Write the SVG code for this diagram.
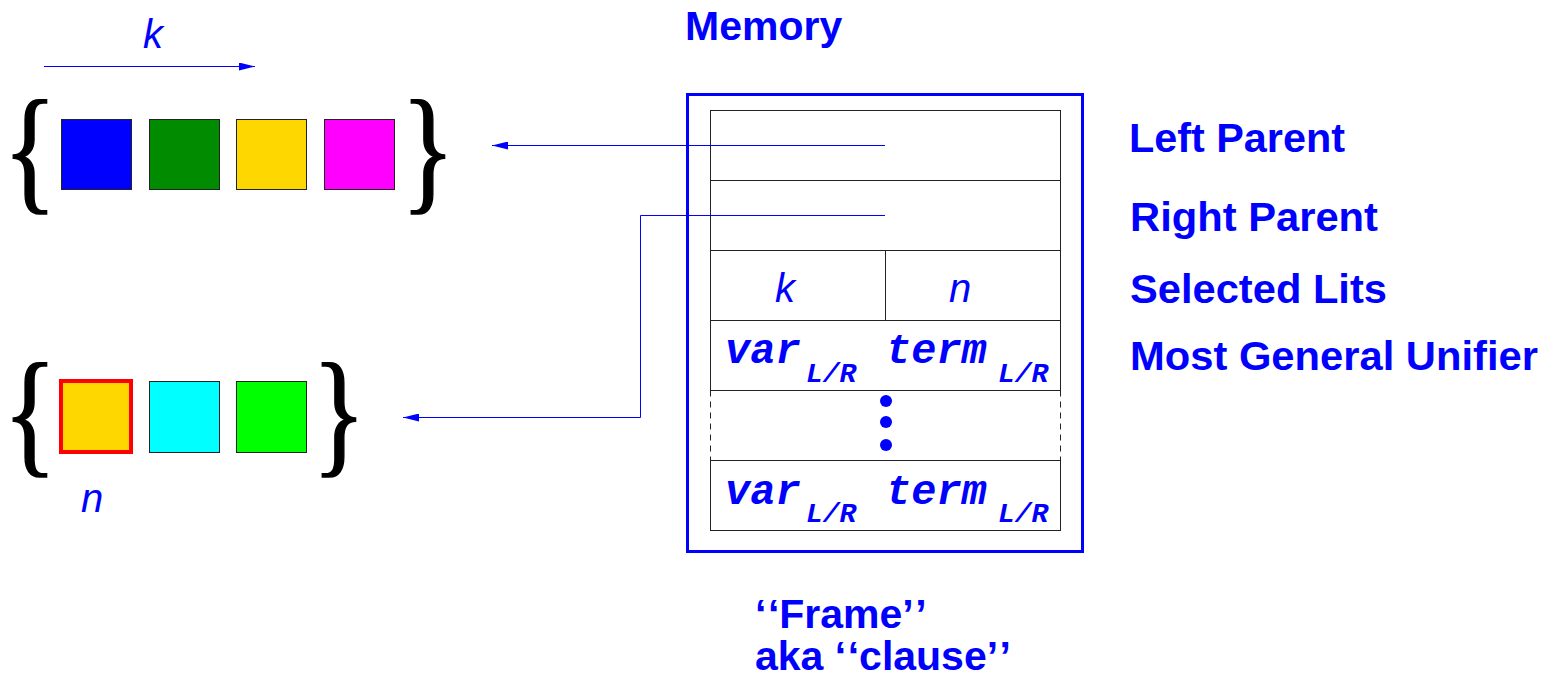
<svg xmlns="http://www.w3.org/2000/svg" width="1548" height="682" viewBox="0 0 1548 682">
<style>
.lbl{font-family:"Liberation Sans",Arial,sans-serif;font-weight:bold;font-size:41px;fill:#0000ff}
.it{font-family:"Liberation Sans",Arial,sans-serif;font-style:italic;font-size:40px;fill:#0000ff}
.mono{font-family:"Liberation Mono","Courier New",monospace;font-weight:bold;font-style:italic;font-size:42px;fill:#0000ff}
.sub{font-family:"Liberation Mono","Courier New",monospace;font-weight:bold;font-style:italic;font-size:28px;fill:#0000ff}
.brace{font-family:"Liberation Serif","Times New Roman",serif;font-size:137px;fill:#000;stroke:#000;stroke-width:1.5}
.sq{stroke:#222;stroke-width:1}
.cell{fill:none;stroke:#222;stroke-width:1}
.conn{fill:none;stroke:#0000ff;stroke-width:1}
</style>
<defs>
<marker id="ah" markerWidth="16" markerHeight="8" refX="16" refY="4" orient="auto" markerUnits="userSpaceOnUse">
<path d="M0,0 L16,4 L0,8 Z" fill="#0000ff"/>
</marker>
</defs>

<g id="k-label">
<text class="it" x="153" y="48" text-anchor="middle">k</text>
</g>

<g id="left-clause">
<text class="brace" text-anchor="middle" transform="translate(30,196) scale(0.82,1)">{</text>
<rect class="sq" x="61.5" y="119.5" width="70" height="70" fill="#0000ff"/>
<rect class="sq" x="149.5" y="119.5" width="70" height="70" fill="#008b00"/>
<rect class="sq" x="236.5" y="119.5" width="70" height="70" fill="#ffd700"/>
<rect class="sq" x="324.5" y="119.5" width="70" height="70" fill="#ff00ff"/>
<text class="brace" text-anchor="middle" transform="translate(428,196) scale(0.82,1)">}</text>
</g>

<g id="right-clause">
<text class="brace" text-anchor="middle" transform="translate(30,459) scale(0.82,1)">{</text>
<rect x="61" y="381" width="70" height="71" fill="#ffd700" stroke="#ff0000" stroke-width="4"/>
<rect class="sq" x="149.5" y="381.5" width="70" height="71" fill="#00ffff"/>
<rect class="sq" x="236.5" y="381.5" width="70" height="71" fill="#00ff00"/>
<text class="brace" text-anchor="middle" transform="translate(339,459) scale(0.82,1)">}</text>
<text class="it" x="92" y="512" text-anchor="middle">n</text>
</g>

<g id="memory-title">
<text class="lbl" x="685" y="40">Memory</text>
</g>

<g id="frame">
<rect x="687.5" y="94.5" width="395" height="457" fill="none" stroke="#0000ff" stroke-width="3"/>
<rect class="cell" x="710.5" y="110.5" width="350" height="70"/>
<rect class="cell" x="710.5" y="180.5" width="350" height="70"/>
<rect class="cell" x="710.5" y="250.5" width="350" height="70"/>
<line class="cell" x1="885.5" y1="250.5" x2="885.5" y2="320.5"/>
<text class="it" x="785" y="302" text-anchor="middle">k</text>
<text class="it" x="960" y="302" text-anchor="middle">n</text>
<rect class="cell" x="710.5" y="320.5" width="350" height="70"/>
<text class="mono" x="725" y="363">var</text>
<text class="sub" x="806" y="382">L/R</text>
<text class="mono" x="886" y="363">term</text>
<text class="sub" x="998" y="382">L/R</text>
<line class="cell" x1="710.5" y1="390.5" x2="710.5" y2="460.5" stroke-dasharray="6,5"/>
<line class="cell" x1="1060.5" y1="390.5" x2="1060.5" y2="460.5" stroke-dasharray="6,5"/>
<circle cx="886" cy="401" r="6" fill="#0000ff"/>
<circle cx="886" cy="422" r="6" fill="#0000ff"/>
<circle cx="886" cy="445" r="6" fill="#0000ff"/>
<rect class="cell" x="710.5" y="460.5" width="350" height="70"/>
<text class="mono" x="725" y="504">var</text>
<text class="sub" x="806" y="522">L/R</text>
<text class="mono" x="886" y="504">term</text>
<text class="sub" x="998" y="522">L/R</text>
</g>

<g id="field-labels">
<text class="lbl" x="1129" y="152" textLength="216" lengthAdjust="spacingAndGlyphs">Left Parent</text>
<text class="lbl" x="1130" y="231" textLength="248" lengthAdjust="spacingAndGlyphs">Right Parent</text>
<text class="lbl" x="1130" y="303" textLength="257" lengthAdjust="spacingAndGlyphs">Selected Lits</text>
<text class="lbl" x="1130" y="370" textLength="408" lengthAdjust="spacingAndGlyphs">Most General Unifier</text>
</g>

<g id="caption">
<text class="lbl" x="755" y="628">‘<tspan dx="3">‘</tspan>Frame’<tspan dx="3">’</tspan></text>
<text class="lbl" x="755" y="670">aka ‘<tspan dx="3">‘</tspan>clause’<tspan dx="3">’</tspan></text>
</g>

<g id="connectors">
<line class="conn" x1="44" y1="66.5" x2="255" y2="66.5" marker-end="url(#ah)"/>
<line class="conn" x1="885" y1="145.5" x2="492" y2="145.5" marker-end="url(#ah)"/>
<polyline class="conn" points="885,215.5 640.5,215.5 640.5,417.5 403,417.5" marker-end="url(#ah)"/>
</g>
</svg>
